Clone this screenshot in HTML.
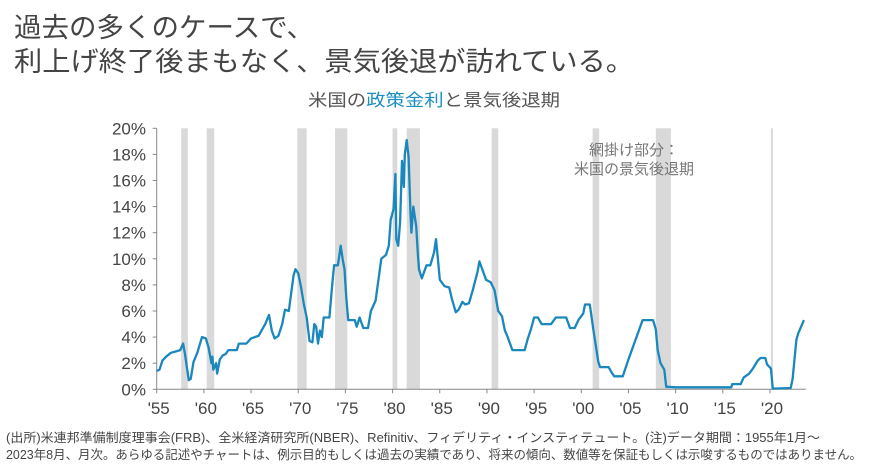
<!DOCTYPE html>
<html><head><meta charset="utf-8">
<style>
html,body{margin:0;padding:0;background:#fff;}
svg{display:block;font-family:"Liberation Sans","Noto Sans CJK JP",sans-serif;}
</style></head>
<body>
<svg id="chart" width="870" height="466" viewBox="0 0 870 466" xmlns="http://www.w3.org/2000/svg">
<text x="14" y="37" font-size="27" fill="#444" textLength="300" lengthAdjust="spacingAndGlyphs">過去の多くのケースで、</text>
<text x="14" y="71" font-size="27" fill="#444" textLength="620" lengthAdjust="spacingAndGlyphs">利上げ終了後まもなく、景気後退が訪れている。</text>
<text x="308" y="106" font-size="17" fill="#555" textLength="252" lengthAdjust="spacingAndGlyphs">米国の<tspan fill="#1a8fc0">政策金利</tspan>と景気後退期</text>
<g id="recessions"></g>
<g id="yaxis"></g>
<g id="xaxis"></g>
<path id="line" fill="none" stroke="#1a87bd" stroke-width="2.3" stroke-linejoin="round"/>
<text x="634" y="155" font-size="15" fill="#777" text-anchor="middle">網掛け部分：</text>
<text x="634" y="174" font-size="15" fill="#777" text-anchor="middle">米国の景気後退期</text>
<text x="6" y="442" font-size="12.5" fill="#444" textLength="814" lengthAdjust="spacingAndGlyphs">(出所)米連邦準備制度理事会(FRB)、全米経済研究所(NBER)、Refinitiv、フィデリティ・インスティテュート。(注)データ期間：1955年1月～</text>
<text x="6" y="459" font-size="12.5" fill="#444" textLength="856" lengthAdjust="spacingAndGlyphs">2023年8月、月次。あらゆる記述やチャートは、例示目的もしくは過去の実績であり、将来の傾向、数値等を保証もしくは示唆するものではありません。</text>
</svg>
<script>
const recStart=[1957.6,1960.3,1969.9,1973.9,1980.0,1981.5,1990.5,2001.2,2007.9,2020.1];
const recEnd=[1958.3,1961.1,1970.9,1975.2,1980.5,1982.9,1991.2,2001.9,2009.5,2020.3];
const yTicks=[0,2,4,6,8,10,12,14,16,18,20];
const xTicks=[1955,1960,1965,1970,1975,1980,1985,1990,1995,2000,2005,2010,2015,2020];
const xTickLabels=["'55","'60","'65","'70","'75","'80","'85","'90","'95","'00","'05","'10","'15","'20"];
const years=[1955.0,1955.3,1955.6,1956.0,1956.5,1957.0,1957.5,1957.8,1958.0,1958.3,1958.4,1958.6,1958.9,1959.3,1959.8,1960.2,1960.5,1960.8,1960.9,1961.0,1961.3,1961.4,1961.7,1962.0,1962.3,1962.6,1963.5,1963.7,1964.5,1965.0,1965.8,1966.5,1966.9,1967.2,1967.5,1967.9,1968.3,1968.6,1969.0,1969.5,1969.7,1970.0,1970.3,1970.6,1970.9,1971.2,1971.5,1971.7,1971.9,1972.1,1972.3,1972.5,1972.7,1973.3,1973.6,1973.8,1974.2,1974.5,1974.7,1974.9,1975.1,1975.3,1976.0,1976.2,1976.5,1976.9,1977.4,1977.7,1978.2,1978.8,1979.3,1979.6,1979.8,1980.1,1980.3,1980.4,1980.6,1980.8,1981.0,1981.2,1981.3,1981.5,1981.7,1981.9,1982.0,1982.2,1982.5,1982.7,1982.8,1983.1,1983.6,1984.0,1984.4,1984.6,1984.8,1985.0,1985.5,1986.0,1986.3,1986.7,1987.0,1987.4,1987.7,1988.1,1988.5,1989.0,1989.2,1989.6,1989.9,1990.4,1990.8,1991.2,1991.6,1991.9,1992.2,1992.7,1993.0,1994.0,1994.3,1994.7,1995.0,1995.4,1995.8,1996.8,1997.3,1998.4,1998.8,1999.3,1999.7,2000.2,2000.4,2000.9,2001.3,2001.8,2002.0,2002.9,2003.2,2003.5,2004.4,2005.0,2006.0,2006.5,2007.6,2007.9,2008.1,2008.4,2008.8,2009.0,2010.0,2015.9,2016.0,2016.9,2017.2,2017.8,2018.2,2018.7,2019.0,2019.5,2019.7,2020.1,2020.3,2022.2,2022.4,2022.6,2022.8,2023.0,2023.3,2023.6];
const rates=[1.4,1.5,2.2,2.5,2.8,2.9,3.0,3.5,2.7,1.2,0.7,0.8,2.1,2.8,4.0,3.9,3.2,2.0,2.5,1.5,2.0,1.2,2.3,2.6,2.7,3.0,3.0,3.5,3.5,3.9,4.1,5.0,5.7,4.5,3.9,4.1,5.0,6.1,6.0,8.7,9.2,8.9,7.8,6.5,5.5,3.7,3.6,5.0,4.8,3.5,4.5,4.0,5.5,5.5,8.0,9.5,9.5,11.0,10.0,9.2,7.0,5.3,5.3,4.8,5.5,4.7,4.7,6.0,6.8,10.0,10.3,11.0,13.0,13.8,16.5,11.5,11.0,12.8,17.5,15.5,18.0,19.1,17.8,13.5,12.0,14.0,12.5,10.2,9.2,8.5,9.5,9.5,10.5,11.5,10.0,8.4,7.9,7.8,6.9,5.9,6.1,6.7,6.5,6.6,7.6,9.0,9.8,9.0,8.4,8.2,7.6,6.0,5.6,4.5,4.0,3.0,3.0,3.0,3.8,4.7,5.5,5.5,5.0,5.0,5.5,5.5,4.7,4.7,5.3,5.8,6.5,6.5,4.5,2.1,1.7,1.7,1.3,1.0,1.0,2.3,4.3,5.3,5.3,4.6,3.0,2.0,1.5,0.2,0.15,0.15,0.4,0.4,0.9,1.2,1.6,2.2,2.4,2.4,1.9,1.6,0.05,0.1,0.8,2.3,3.8,4.3,4.8,5.3];
const NS='http://www.w3.org/2000/svg';
const x0=156.7,pxYear=9.435,yBase=389.3,pxPct=13.05;
function sx(y){return x0+(y-1955)*pxYear;}
function sy(v){return yBase-v*pxPct;}
function mk(tag,attrs,parent){const e=document.createElementNS(NS,tag);for(const k in attrs)e.setAttribute(k,attrs[k]);parent.appendChild(e);return e;}
const rg=document.getElementById('recessions');
for(let i=0;i<recStart.length;i++){
  const r=mk('rect',{x:sx(recStart[i]),y:sy(20),width:Math.max(2,sx(recEnd[i])-sx(recStart[i])),height:sy(0)-sy(20),fill:'#d9d9d9'},rg);
  
  
}
const ya=document.getElementById('yaxis');
const yl=mk('line',{x1:x0,y1:sy(20),x2:x0,y2:sy(0),stroke:'#888','stroke-width':1},ya);


yTicks.forEach(v=>{
  const t=mk('text',{x:146,y:sy(v)+6,'font-size':17,fill:'#444','text-anchor':'end'},ya);
  t.textContent=v+'%';
  
  
  mk('line',{x1:x0-4,y1:sy(v),x2:x0,y2:sy(v),stroke:'#888'},ya);
});
const xa=document.getElementById('xaxis');
const xl=mk('line',{x1:x0,y1:sy(0),x2:sx(2023.8),y2:sy(0),stroke:'#888','stroke-width':1},xa);


xTicks.forEach((v,i)=>{
  mk('line',{x1:sx(v),y1:sy(0),x2:sx(v),y2:sy(0)+4,stroke:'#888'},xa);
  const t=mk('text',{x:sx(v)+2,y:414,'font-size':17,fill:'#444','text-anchor':'middle'},xa);
  t.textContent=xTickLabels[i];
  
  
});
let d='';
years.forEach((y,i)=>{d+=(i?'L':'M')+sx(y).toFixed(1)+','+sy(rates[i]).toFixed(1);});
document.getElementById('line').setAttribute('d',d);
</script>
</body></html>
